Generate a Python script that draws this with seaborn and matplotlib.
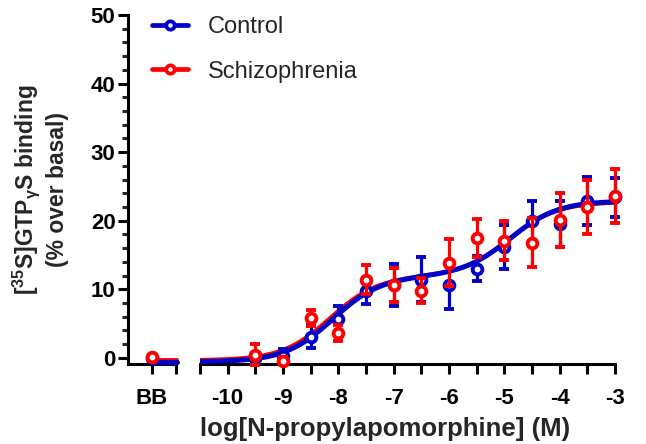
import numpy as np
import pandas as pd
import matplotlib
matplotlib.use("Agg")
import matplotlib.pyplot as plt
from matplotlib.lines import Line2D
import seaborn as sns

# ---------------- data ----------------
log_conc = [-9.5, -9.0, -8.5, -8.0, -7.5, -7.0, -6.5, -6.0, -5.5, -5.0, -4.5, -4.0, -3.5, -3.0]
control_mean = [0.0, 0.3, 3.1, 5.6, 9.8, 10.6, 11.4, 10.6, 13.0, 16.1, 19.9, 19.5, 22.9, 23.4]
control_sem = [0.7, 1.0, 1.7, 2.0, 1.9, 3.1, 3.3, 3.5, 1.8, 3.2, 2.9, 3.3, 3.5, 2.9]
schizo_mean = [0.45, -0.4, 5.8, 3.6, 11.4, 10.6, 9.8, 13.9, 17.5, 17.1, 16.8, 20.1, 22.0, 23.6]
schizo_sem = [1.5, 0.5, 1.2, 1.2, 2.1, 2.5, 1.8, 3.4, 2.8, 2.9, 3.6, 3.9, 3.9, 3.9]
bb_control = [0.0]
bb_control_sem = [0.4]
bb_schizo = [0.05]
bb_schizo_sem = [0.3]

# biphasic fit parameters (estimated from the drawn curves)
control_fit = {"bottom": -0.6, "span1": 12.5, "logec1": -8.1, "span2": 11.0, "logec2": -4.9}
schizo_fit = {"bottom": -0.35, "span1": 12.3, "logec1": -8.15, "span2": 10.8, "logec2": -4.9}

x_major_ticks = [-10, -9, -8, -7, -6, -5, -4, -3]
x_major_labels = ["-10", "-9", "-8", "-7", "-6", "-5", "-4", "-3"]
x_minor_ticks = [-10.5, -9.5, -8.5, -7.5, -6.5, -5.5, -4.5, -3.5]
y_major_ticks = [0, 10, 20, 30, 40, 50]
y_minor_ticks = [2, 4, 6, 8, 12, 14, 16, 18, 22, 24, 26, 28, 32, 34, 36, 38, 42, 44, 46, 48]
series_names = ["Control", "Schizophrenia"]

BLUE = "#0000C8"
RED = "#FF0000"


def biphasic(x, p):
    x = np.asarray(x)
    return (p["bottom"]
            + p["span1"] / (1 + 10 ** (p["logec1"] - x))
            + p["span2"] / (1 + 10 ** (p["logec2"] - x)))


sns.set_theme(style="ticks")
plt.rcParams["font.family"] = ["Liberation Sans", "DejaVu Sans"]
plt.rcParams["font.weight"] = "bold"
plt.rcParams["mathtext.fontset"] = "custom"
plt.rcParams["mathtext.rm"] = "Liberation Sans:bold"
plt.rcParams["mathtext.bf"] = "Liberation Sans:bold"
plt.rcParams["mathtext.it"] = "Liberation Sans:bold"

FS_TICK = 16
FS_XLAB = 18.5
FS_YLAB = 16.5
FS_LEG = 17

fig = plt.figure(figsize=(6.46, 4.44), dpi=100)
ax_bb = fig.add_axes([128 / 646, 80 / 444, 48 / 646, 349 / 444])
ax = fig.add_axes([200 / 646, 80 / 444, 415 / 646, 349 / 444])

ylim = (-0.9, 50)
for a in (ax_bb, ax):
    a.set_ylim(*ylim)
    a.set_facecolor("none")
    for s in ("top", "right"):
        a.spines[s].set_visible(False)
    for s in ("left", "bottom"):
        a.spines[s].set_linewidth(2.2)
        a.spines[s].set_color("black")

# ---------------- BB segment ----------------
ax_bb.set_xlim(-1, 1)
bb_df = pd.DataFrame({"x": [0, 1.05, 0, 1.05],
                      "y": [control_fit["bottom"]] * 2 + [schizo_fit["bottom"]] * 2,
                      "g": ["Control"] * 2 + ["Schizophrenia"] * 2})
sns.lineplot(data=bb_df[bb_df.g == "Schizophrenia"], x="x", y="y", ax=ax_bb,
             color=RED, linewidth=2.8, zorder=2, legend=False, clip_on=False)
sns.lineplot(data=bb_df[bb_df.g == "Control"], x="x", y="y", ax=ax_bb,
             color=BLUE, linewidth=3.6, zorder=3, legend=False, clip_on=False)

err_kw = dict(fmt="o", ms=7, mfc="white", mew=2.8, elinewidth=2.3,
              capsize=3.8, capthick=2.3, clip_on=False)
ax_bb.errorbar([0], bb_control, yerr=bb_control_sem, color=BLUE, mec=BLUE,
               ecolor=BLUE, zorder=4, **err_kw)
ax_bb.errorbar([0], bb_schizo, yerr=bb_schizo_sem, color=RED, mec=RED,
               ecolor=RED, zorder=5, **err_kw)
ax_bb.set_xticks([0])
ax_bb.set_xticklabels(["BB"])
ax_bb.set_xticks([1], minor=True)
ax_bb.set_yticks(y_major_ticks)
ax_bb.set_yticklabels([str(v) for v in y_major_ticks])
ax_bb.set_yticks(y_minor_ticks, minor=True)
ax_bb.tick_params(axis="y", which="major", length=7, width=2.2, labelsize=FS_TICK, pad=2, colors="black")
ax_bb.tick_params(axis="y", which="minor", length=4.5, width=2.2)
ax_bb.tick_params(axis="x", which="both", length=7, width=2.2, labelsize=FS_TICK, pad=10, colors="black")
ax_bb.set_xlabel("")
ax_bb.set_ylabel("[$^{35}$S]GTP$_{\\gamma}$S binding\n(% over basal)",
                 fontsize=FS_YLAB, fontweight="bold", labelpad=16, linespacing=1.2)

# ---------------- main segment ----------------
xs = np.linspace(-10.5, -3, 300)
curve_df = pd.DataFrame({"x": np.concatenate([xs, xs]),
                         "y": np.concatenate([biphasic(xs, control_fit), biphasic(xs, schizo_fit)]),
                         "g": ["Control"] * len(xs) + ["Schizophrenia"] * len(xs)})
sns.lineplot(data=curve_df[curve_df.g == "Schizophrenia"], x="x", y="y", ax=ax,
             color=RED, linewidth=2.8, zorder=2, legend=False)
sns.lineplot(data=curve_df[curve_df.g == "Control"], x="x", y="y", ax=ax,
             color=BLUE, linewidth=3.6, zorder=3, legend=False)
ax.errorbar(log_conc, control_mean, yerr=control_sem, color=BLUE, mec=BLUE,
            ecolor=BLUE, zorder=4, **err_kw)
ax.errorbar(log_conc, schizo_mean, yerr=schizo_sem, color=RED, mec=RED,
            ecolor=RED, zorder=5, **err_kw)

ax.set_xlim(-10.5, -3)
ax.spines["left"].set_visible(False)
ax.set_yticks([])
ax.set_ylabel("")
ax.set_xticks(x_major_ticks)
ax.set_xticklabels(x_major_labels)
ax.set_xticks(x_minor_ticks, minor=True)
ax.tick_params(axis="x", which="both", length=7, width=2.2, labelsize=FS_TICK, pad=10, colors="black")
ax.set_xlabel("log[N-propylapomorphine] (M)", fontsize=FS_XLAB, fontweight="bold")
ax.xaxis.set_label_coords((385 - 200) / 415, -0.152)
ax.xaxis.label.set_va("top")

for lab in ax.get_xticklabels() + ax_bb.get_xticklabels() + ax_bb.get_yticklabels():
    lab.set_fontweight("bold")

# ---------------- legend ----------------
handles = [Line2D([], [], color=c, lw=3.4, marker="o", ms=6, mfc="white", mec=c, mew=2.7)
           for c in (BLUE, RED)]
leg = fig.legend(handles, series_names, loc="upper left", bbox_to_anchor=(131 / 646, 1 + 5 / 444),
                 frameon=False, prop={"family": ["Liberation Sans", "DejaVu Sans"], "weight": "normal", "size": FS_LEG},
                 handlelength=1.5, handletextpad=0.85, labelspacing=0.95)

fig.savefig("out.png", dpi=100)
